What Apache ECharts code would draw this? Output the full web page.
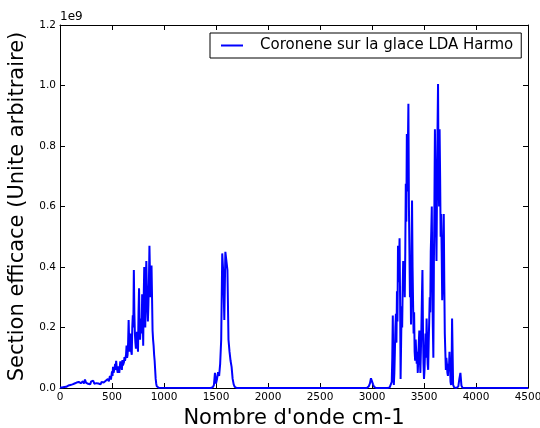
<!DOCTYPE html>
<html>
<head>
<meta charset="utf-8">
<script src="https://cdn.jsdelivr.net/npm/echarts@6/dist/echarts.min.js"></script>
<style>html,body{margin:0;padding:0;background:#fff}#c{width:540px;height:428px}</style>
</head>
<body>
<div id="c"></div>
<script>
// Intensities in units of 1e9 (wavenumbers in cm-1)
const band1Wn = [0,10,20,30,40,50,60,70,80,90,100,110,120,130,140,150,160,170,180,190,200,210,220,230,240,250,260,270,280,290,300,310,320,330,340,350,360,370,380,390,400,410,420,430,440,450,460,470,480,490,
500,505,510,515,520,525,530,535,540,545,550,555,560,565,570,575,580,585,590,595,600,605,610,615,620,625,630,635,640,645,650,655,660,665,670,675,680,685,690,695,
700,705,710,715,720,725,730,735,740,745,750,755,760,765,770,775,780,785,790,795,800,805,810,815,820,825,830,835,840,845,850,855,860,865,870,875,880,885,890,895,
900,905,910,915,920,925,930,940,950,960];
const band1Int = [0.002,0.003,0.002,0.004,0.003,0.005,0.004,0.006,0.008,0.005,
0.010,0.007,0.012,0.008,0.015,0.010,0.018,0.012,0.020,0.014,
0.016,0.012,0.022,0.015,0.028,0.018,0.024,0.014,0.020,0.012,
0.022,0.016,0.024,0.014,0.020,0.016,0.022,0.015,0.018,0.012,
0.020,0.014,0.018,0.016,0.024,0.020,0.030,0.022,0.040,0.028,
0.055,0.040,0.070,0.050,0.045,0.065,0.080,0.060,0.090,0.070,0.060,0.050,0.072,0.060,0.050,0.070,0.088,0.065,0.075,0.060,
0.092,0.075,0.070,0.085,0.102,0.090,0.085,0.110,0.140,0.100,0.110,0.150,0.225,0.150,0.120,0.140,0.180,0.120,0.110,0.200,
0.240,0.200,0.390,0.250,0.180,0.150,0.130,0.160,0.186,0.150,0.120,0.250,0.330,0.220,0.160,0.200,0.230,0.180,0.310,0.250,
0.140,0.300,0.400,0.300,0.200,0.350,0.420,0.330,0.260,0.220,0.275,0.350,0.470,0.380,0.300,0.350,0.405,0.300,0.190,0.160,
0.140,0.110,0.090,0.060,0.030,0.015,0.006,0.002,0.001,0.000];
const band2Wn = [1450,1460,1470,1480,1490,1500,1510,1520,1530,1540,1550,1560,1570,1580,1590,1600,1610,1620,1630,1640,1650,1660,1670,1680,1690,1700];
const band2Int = [0,0.001,0.003,0.010,0.050,0.015,0.030,0.052,0.040,0.080,0.160,0.445,0.380,0.225,0.450,0.456,0.390,0.160,0.120,0.090,0.070,0.030,0.012,0.004,0.001,0];
const band3Wn = [2950,2960,2970,2980,2990,3000,3010,3020,3030,3040];
const band3Int = [0,0.002,0.006,0.015,0.032,0.036,0.012,0.004,0.001,0];
const band4Wn = [3150,3160,3170,3180,
3190,3195,3200,3205,3210,3215,3220,3225,3230,3235,3240,3245,3250,3255,3260,3265,3270,3275,3280,3285,3290,3295,
3300,3305,3310,3315,3320,3325,3330,3335,3340,3345,3350,3355,3360,3365,3370,3375,3380,3385,3390,3395,
3400,3405,3410,3415,3420,3425,3430,3435,3440,3445,3450,3455,3460,3465,3470,3475,3480,3485,3490,3495,
3500,3505,3510,3515,3520,3525,3530,3535,3540,3545,3550,3555,3560,3565,3570,3575,3580,3585,3590,3595,
3600,3605,3610,3615,3620,3625,3630,3635,3640,3645,3650,3655,3660,3665,3670,3675,3680,3685,3690,3695,
3700,3705,3710,3715,3720,3725,3730,3735,3740,3745,3750,3755,3760,3765,3770,3775,3780,3785,3790,
3800,3810,3820,3830,3840,3850,3860,3870,3880];
const band4Int = [0,0,0.002,0.005,
0.020,0.100,0.240,0.060,0.010,0.050,0.120,0.200,0.245,0.150,0.320,0.220,0.470,0.350,0.400,0.495,0.300,0.030,0.150,0.270,0.200,0.330,
0.420,0.350,0.420,0.300,0.450,0.675,0.550,0.840,0.650,0.800,0.940,0.600,0.450,0.300,0.400,0.210,0.450,0.620,0.400,0.280,
0.180,0.250,0.120,0.090,0.160,0.120,0.080,0.120,0.050,0.100,0.150,0.190,0.100,0.050,0.120,0.200,0.300,0.390,0.200,0.080,
0.030,0.060,0.120,0.180,0.100,0.230,0.150,0.080,0.060,0.150,0.220,0.300,0.250,0.450,0.520,0.600,0.350,0.200,0.100,0.400,
0.600,0.855,0.700,0.550,0.420,0.650,0.850,1.005,0.700,0.600,0.855,0.700,0.500,0.575,0.450,0.290,0.350,0.450,0.575,0.350,
0.180,0.120,0.060,0.100,0.080,0.050,0.040,0.080,0.060,0.120,0.070,0.020,0.010,0.050,0.230,0.120,0.010,0.005,0.002,
0.001,0,0,0.005,0.030,0.050,0.008,0.001,0];
const tailWn = [4500];
const tailInt = [0];
const xTicks = [0,500,1000,1500,2000,2500,3000,3500,4000,4500];
const yTicks = [0.0,0.2,0.4,0.6,0.8,1.0,1.2];
const seriesName = 'Coronene sur la glace LDA Harmo';

const data = [];
[[band1Wn,band1Int],[band2Wn,band2Int],[band3Wn,band3Int],[band4Wn,band4Int],[tailWn,tailInt]].forEach(function(b){
  b[0].forEach(function(w,i){ data.push([w, b[1][i]]); });
});

const FONT = 'DejaVu Sans';
const chart = echarts.init(document.getElementById('c'), null, {renderer:'canvas'});
const axisCommon = {
  type:'value',
  axisLine:{show:true,onZero:false,lineStyle:{color:'#000',width:1}},
  axisTick:{show:true,inside:true,length:5,lineStyle:{color:'#000'}},
  splitLine:{show:false}
};
chart.setOption({
  animation:false,
  textStyle:{fontFamily:FONT},
  grid:{left:60,right:12,top:25,bottom:40,containLabel:false,outerBoundsMode:'none'},
  legend:{
    show:true, left:210, top:33,
    padding:[5,8,5,11],
    borderColor:'#000', borderWidth:1, borderRadius:0, backgroundColor:'#fff',
    itemWidth:22, itemHeight:2, itemGap:10, icon:'rect',
    textStyle:{fontFamily:FONT,fontSize:15,color:'#000',padding:[0,0,0,12]},
    data:[seriesName]
  },
  graphic:[{type:'text',left:60,top:11,style:{text:'1e9',font:'12px "DejaVu Sans"',fill:'#000'}}],
  xAxis:[
    Object.assign({},axisCommon,{min:xTicks[0],max:xTicks[xTicks.length-1],interval:500,position:'bottom',
      name:"Nombre d'onde cm-1",nameLocation:'middle',nameGap:20,
      nameTextStyle:{fontFamily:FONT,fontSize:21,color:'#000'},
      axisLabel:{show:true,fontFamily:FONT,fontSize:10.5,color:'#000',margin:4,formatter:function(v){return String(v);}}}),
    Object.assign({},axisCommon,{min:xTicks[0],max:xTicks[xTicks.length-1],interval:500,position:'top',axisLabel:{show:false}})
  ],
  yAxis:[
    Object.assign({},axisCommon,{min:yTicks[0],max:yTicks[yTicks.length-1],interval:0.2,position:'left',
      name:'Section efficace (Unite arbitraire)',nameLocation:'middle',nameGap:25,
      nameTextStyle:{fontFamily:FONT,fontSize:21,color:'#000'},
      axisLabel:{show:true,fontFamily:FONT,fontSize:10.5,color:'#000',margin:4,formatter:function(v){return v.toFixed(1);}}}),
    Object.assign({},axisCommon,{min:yTicks[0],max:yTicks[yTicks.length-1],interval:0.2,position:'right',axisLabel:{show:false}})
  ],
  series:[{
    name:seriesName, type:'line', data:data, xAxisIndex:0, yAxisIndex:0,
    showSymbol:false, symbol:'none',
    lineStyle:{color:'#0000ff',width:2}, itemStyle:{color:'#0000ff'},
    z:1
  }]
});
</script>
</body>
</html>
